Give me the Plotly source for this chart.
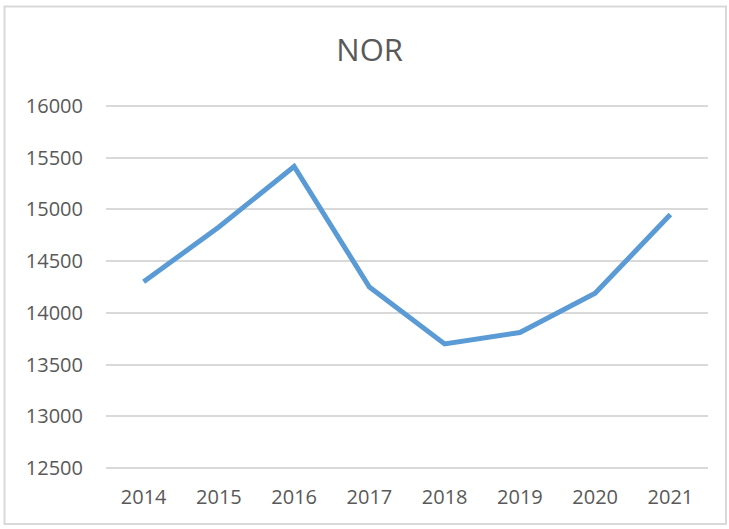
import plotly.graph_objects as go

years = ["2014", "2015", "2016", "2017", "2018", "2019", "2020", "2021"]
values = [14300, 14830, 15415, 14250, 13700, 13810, 14190, 14950]
y_ticks = [12500, 13000, 13500, 14000, 14500, 15000, 15500, 16000]
title_text = "NOR"

L, R, T, B = 106, 21, 104, 59
W, H = 729, 529
pw, ph = W - L - R, H - T - B
pad = (3500 * ph / 362 - 3500) / 2
y_range = [12500 - pad, 16000 + pad]

def px_to_paper_x(px):
    return (px - L) / pw

def px_to_paper_y(py):
    return (H - B - py) / ph

fig = go.Figure()
fig.add_trace(go.Scatter(
    x=years, y=values, mode="lines",
    line=dict(color="#5B9BD5", width=5),
    hoverinfo="x+y",
))

fig.update_layout(
    width=W, height=H,
    margin=dict(l=L, r=R, t=T, b=B),
    paper_bgcolor="white", plot_bgcolor="white",
    showlegend=False,
    font=dict(family="Open Sans", color="#595959", size=20),
    title=dict(text=title_text, x=0.507, xanchor="center", y=0.905, yanchor="middle",
               font=dict(family="Open Sans", size=31, color="#595959")),
    xaxis=dict(type="category", range=[-0.5, 7.5], showgrid=False, zeroline=False,
               showline=False, ticks="", ticklabelstandoff=13,
               tickfont=dict(size=20, color="#595959")),
    yaxis=dict(range=y_range, tickvals=y_ticks, tickformat="d", showgrid=True,
               gridcolor="#D9D9D9", gridwidth=2, zeroline=False, showline=False,
               ticks="", ticklabelstandoff=22,
               tickfont=dict(size=20, color="#595959")),
    shapes=[dict(type="rect", xref="paper", yref="paper",
                 x0=px_to_paper_x(4.5), x1=px_to_paper_x(726),
                 y0=px_to_paper_y(524), y1=px_to_paper_y(6.5),
                 line=dict(color="#D9D9D9", width=2), layer="below")],
)

fig.write_html("out.html", config={"displayModeBar": False},
               post_script="document.body.style.margin='0';")
